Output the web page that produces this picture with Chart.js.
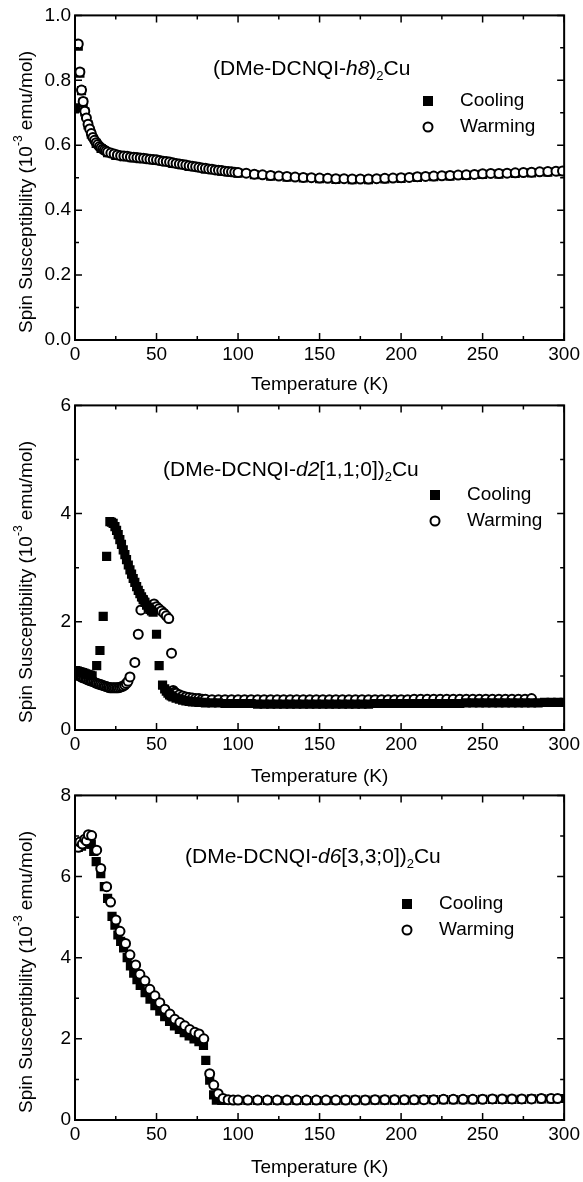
<!DOCTYPE html>
<html>
<head>
<meta charset="utf-8">
<script src="https://cdn.jsdelivr.net/npm/chart.js@4.4.0/dist/chart.umd.min.js"></script>
<style>
  body { margin: 0; background: #fff; }
  #wrap { position: relative; width: 583px; height: 1182px; }
  canvas { position: absolute; left: 0; }
</style>
</head>
<body>
<div id="wrap">
  <canvas id="c1" width="583" height="400" style="top:0px"></canvas>
  <canvas id="c2" width="583" height="400" style="top:390px"></canvas>
  <canvas id="c3" width="583" height="402" style="top:780px"></canvas>
</div>
<script>
// (DMe-DCNQI-h8)2Cu
var h8WarmT = [
  2, 3, 4, 5, 6, 7, 8, 9, 10, 11,
  12, 13, 14, 15, 16, 17, 18, 19, 20, 22,
  24, 26, 28, 30, 32, 34, 36, 38, 40, 42,
  44, 46, 48, 50, 52, 54, 56, 58, 60, 62,
  64, 66, 68, 70, 72, 74, 76, 78, 80, 82,
  84, 86, 88, 90, 92, 94, 96, 98, 100, 105,
  110, 115, 120, 125, 130, 135, 140, 145, 150, 155,
  160, 165, 170, 175, 180, 185, 190, 195, 200, 205,
  210, 215, 220, 225, 230, 235, 240, 245, 250, 255,
  260, 265, 270, 275, 280, 285, 290, 295, 299]
var h8WarmChi = [
  0.912, 0.826, 0.770, 0.735, 0.705, 0.684, 0.665, 0.650, 0.636, 0.624,
  0.615, 0.608, 0.602, 0.596, 0.592, 0.588, 0.585, 0.582, 0.579, 0.576,
  0.573, 0.570, 0.568, 0.567, 0.566, 0.564, 0.563, 0.562, 0.561, 0.560,
  0.558, 0.557, 0.556, 0.555, 0.553, 0.551, 0.550, 0.548, 0.546, 0.544,
  0.542, 0.541, 0.539, 0.537, 0.535, 0.534, 0.532, 0.530, 0.529, 0.527,
  0.526, 0.524, 0.523, 0.522, 0.520, 0.519, 0.518, 0.517, 0.516, 0.514,
  0.511, 0.509, 0.507, 0.505, 0.504, 0.502, 0.501, 0.500, 0.499, 0.498,
  0.497, 0.497, 0.496, 0.496, 0.496, 0.497, 0.498, 0.499, 0.500, 0.501,
  0.503, 0.504, 0.505, 0.506, 0.507, 0.508, 0.509, 0.510, 0.512, 0.513,
  0.513, 0.514, 0.515, 0.516, 0.517, 0.518, 0.519, 0.520, 0.521]
var h8CoolT = [
  0.5, 2, 3, 4, 5, 6, 8, 10, 13, 16,
  20, 25, 30, 35, 40, 50, 60, 70, 80, 90,
  100, 110, 120, 130, 140, 150, 160, 170, 180, 190,
  200, 210, 220, 230, 240, 250, 260, 270, 280, 290,
  298]
var h8CoolChi = [
  0.715, 0.905, 0.822, 0.768, 0.732, 0.703, 0.663, 0.634, 0.606, 0.590,
  0.577, 0.569, 0.565, 0.562, 0.559, 0.553, 0.544, 0.535, 0.527, 0.520,
  0.514, 0.509, 0.505, 0.502, 0.499, 0.497, 0.495, 0.494, 0.494, 0.496,
  0.498, 0.501, 0.503, 0.505, 0.507, 0.510, 0.511, 0.513, 0.515, 0.517,
  0.519]

// (DMe-DCNQI-d2[1,1;0])2Cu
var d2CoolT = [
  0.5, 1.5, 2.5, 3.5, 4.5, 5.5, 6.5, 7.5, 8.5, 9.5,
  10.5, 13.3, 15.3, 17.3, 19.4, 21.4, 22.4, 23.4, 24.5, 25.5,
  26.5, 27.5, 28.5, 29.6, 30.6, 31.6, 32.7, 33.7, 34.7, 35.7,
  36.7, 37.8, 38.8, 39.8, 40.8, 41.8, 42.9, 43.9, 44.9, 45.9,
  46.9, 47.9, 50, 51.6, 53.7, 55, 56, 57, 58, 59,
  60, 62, 64, 66, 68, 70, 72, 74, 76, 78,
  80, 84, 88, 92, 96, 100, 104, 108, 112, 116,
  120, 124, 128, 132, 136, 140, 144, 148, 152, 156,
  160, 164, 168, 172, 176, 180, 184, 188, 192, 196,
  200, 204, 208, 212, 216, 220, 224, 228, 232, 236,
  240, 244, 248, 252, 256, 260, 264, 268, 272, 276,
  280, 284, 288, 292, 296, 300]
var d2CoolChi = [
  1.10, 1.09, 1.08, 1.07, 1.06, 1.05, 1.04, 1.03, 1.02, 1.01,
  1.00, 1.19, 1.47, 2.10, 3.21, 3.85, 3.84, 3.82, 3.76, 3.69,
  3.61, 3.52, 3.43, 3.33, 3.24, 3.15, 3.05, 2.96, 2.88, 2.80,
  2.73, 2.65, 2.58, 2.52, 2.46, 2.41, 2.36, 2.31, 2.27, 2.23,
  2.20, 2.18, 1.77, 1.19, 0.83, 0.76, 0.72, 0.68, 0.65, 0.63,
  0.61, 0.59, 0.57, 0.55, 0.54, 0.53, 0.52, 0.52, 0.51, 0.51,
  0.50, 0.50, 0.50, 0.49, 0.49, 0.49, 0.49, 0.49, 0.48, 0.48,
  0.48, 0.48, 0.48, 0.48, 0.48, 0.48, 0.48, 0.48, 0.48, 0.48,
  0.48, 0.48, 0.48, 0.48, 0.48, 0.48, 0.49, 0.49, 0.49, 0.49,
  0.49, 0.49, 0.49, 0.49, 0.49, 0.49, 0.49, 0.49, 0.49, 0.49,
  0.50, 0.50, 0.50, 0.50, 0.50, 0.50, 0.50, 0.50, 0.50, 0.50,
  0.50, 0.50, 0.51, 0.51, 0.51, 0.51]
var d2WarmT = [
  0.5, 1.5, 2.5, 3.5, 4.5, 5.5, 6.5, 7.5, 8.5, 9.5,
  10.5, 11.5, 12.5, 13.5, 14.5, 15.5, 16.5, 17.5, 18.5, 19.5,
  20.5, 21.5, 22.5, 23.5, 24.5, 25.5, 26.5, 27.5, 28.5, 29.5,
  30.5, 31.5, 32.5, 33.7, 36.7, 38.8, 40.4, 41.8, 48.5, 50,
  51.5, 53, 54.5, 56, 57.5, 59.2, 60.2, 61, 62, 64,
  66, 68, 70, 72, 74, 76, 78, 80, 84, 88,
  92, 96, 100, 104, 108, 112, 116, 120, 124, 128,
  132, 136, 140, 144, 148, 152, 156, 160, 164, 168,
  172, 176, 180, 184, 188, 192, 196, 200, 204, 208,
  212, 216, 220, 224, 228, 232, 236, 240, 244, 248,
  252, 256, 260, 264, 268, 272, 276, 280]
var d2WarmChi = [
  1.04, 1.02, 1.00, 0.99, 0.97, 0.96, 0.95, 0.93, 0.92, 0.91,
  0.90, 0.89, 0.87, 0.86, 0.85, 0.84, 0.83, 0.82, 0.81, 0.80,
  0.79, 0.78, 0.78, 0.78, 0.78, 0.78, 0.78, 0.79, 0.80, 0.81,
  0.83, 0.86, 0.90, 0.98, 1.25, 1.77, 2.22, 2.42, 2.33, 2.28,
  2.24, 2.20, 2.16, 2.11, 2.06, 1.42, 0.73, 0.70, 0.68, 0.65,
  0.63, 0.61, 0.60, 0.59, 0.58, 0.58, 0.57, 0.57, 0.56, 0.56,
  0.56, 0.56, 0.56, 0.56, 0.56, 0.56, 0.56, 0.56, 0.56, 0.56,
  0.56, 0.56, 0.56, 0.56, 0.56, 0.56, 0.56, 0.56, 0.56, 0.56,
  0.56, 0.56, 0.56, 0.56, 0.56, 0.56, 0.56, 0.56, 0.56, 0.57,
  0.57, 0.57, 0.57, 0.57, 0.57, 0.57, 0.57, 0.57, 0.57, 0.57,
  0.57, 0.57, 0.57, 0.57, 0.57, 0.57, 0.57, 0.58]

// (DMe-DCNQI-d6[3,3;0])2Cu
var d6WarmT = [
  0.5, 2, 3, 4.5, 6, 7, 8.2, 10.2, 13.3, 15.8,
  19.4, 21.8, 25.1, 27.6, 31, 33.7, 37.2, 39.8, 42.9, 45.9,
  49, 52, 55.1, 58.2, 61.2, 64.3, 67.3, 70.4, 73.5, 76.1,
  79, 82.6, 85.1, 87.8, 90.8, 93.9, 97, 100, 106, 112,
  118, 124, 130, 136, 142, 148, 154, 160, 166, 172,
  178, 184, 190, 196, 202, 208, 214, 220, 226, 232,
  238, 244, 250, 256, 262, 268, 274, 280, 286, 292,
  296]
var d6WarmChi = [
  6.81, 6.72, 6.85, 6.80, 6.92, 6.88, 7.03, 7.01, 6.65, 6.20,
  5.75, 5.37, 4.93, 4.65, 4.35, 4.07, 3.82, 3.59, 3.43, 3.22,
  3.06, 2.89, 2.73, 2.61, 2.48, 2.40, 2.32, 2.23, 2.16, 2.12,
  2.00, 1.14, 0.86, 0.65, 0.53, 0.50, 0.49, 0.49, 0.49, 0.49,
  0.49, 0.49, 0.49, 0.49, 0.49, 0.49, 0.49, 0.49, 0.49, 0.49,
  0.49, 0.50, 0.50, 0.50, 0.50, 0.50, 0.50, 0.50, 0.51, 0.51,
  0.51, 0.51, 0.51, 0.52, 0.52, 0.52, 0.52, 0.52, 0.53, 0.53,
  0.53]
var d6CoolT = [
  0.5, 2, 4, 6, 8, 10, 11.5, 13, 15.8, 18,
  20, 22.7, 24.5, 26.3, 28, 29.8, 32, 34, 36, 38,
  40, 43, 46, 49, 52, 55, 58, 61, 64, 67,
  70, 73, 76, 78.8, 80.2, 82.6, 85, 86.7, 90, 94,
  100, 106, 112, 118, 124, 130, 136, 142, 148, 154,
  160, 166, 172, 178, 184, 190, 196, 202, 208, 214,
  220, 226, 232, 238, 244, 250, 256, 262, 268, 274,
  280, 286, 292, 300]
var d6CoolChi = [
  6.75, 6.72, 6.75, 6.80, 6.85, 6.80, 6.62, 6.37, 6.07, 5.75,
  5.46, 5.02, 4.80, 4.56, 4.40, 4.24, 4.00, 3.80, 3.62, 3.46,
  3.32, 3.14, 2.98, 2.82, 2.68, 2.55, 2.43, 2.32, 2.23, 2.15,
  2.07, 2.00, 1.93, 1.84, 1.47, 0.98, 0.62, 0.49, 0.48, 0.48,
  0.48, 0.48, 0.48, 0.48, 0.48, 0.48, 0.48, 0.48, 0.48, 0.48,
  0.48, 0.49, 0.49, 0.49, 0.49, 0.49, 0.49, 0.49, 0.49, 0.50,
  0.50, 0.50, 0.50, 0.50, 0.50, 0.51, 0.51, 0.51, 0.51, 0.51,
  0.52, 0.52, 0.52, 0.53]

var FONT = "'Liberation Sans', Arial, Helvetica, sans-serif"
var xTitle = 'Temperature (K)'
var legendNames = ['Cooling', 'Warming']

function pts(xs, ys) {
  return xs.map(function(x, i) { return {x: x, y: ys[i]} })
}

// box, inward ticks, y title with superscript, sample label, legend
function framePlugin(o) {
  return {
    id: 'frame',
    afterDatasetsDraw: function(chart) {
      var c = chart.ctx, a = chart.chartArea
      var xs = chart.scales.x, ys = chart.scales.y
      c.save()
      c.strokeStyle = '#000'
      c.fillStyle = '#000'
      c.lineWidth = 2
      c.strokeRect(a.left, a.top, a.right - a.left, a.bottom - a.top)

      c.beginPath()
      var xt = xs.ticks.map(function(t) { return t.value })
      xt.forEach(function(v, i) {
        var p = xs.getPixelForValue(v)
        c.moveTo(p, a.bottom); c.lineTo(p, a.bottom - 7)
        c.moveTo(p, a.top); c.lineTo(p, a.top + 7)
        if (i < xt.length - 1) {
          var m = xs.getPixelForValue((v + xt[i + 1]) / 2)
          c.moveTo(m, a.bottom); c.lineTo(m, a.bottom - 4)
          c.moveTo(m, a.top); c.lineTo(m, a.top + 4)
        }
      })
      var yt = ys.ticks.map(function(t) { return t.value })
      yt.forEach(function(v, i) {
        var p = ys.getPixelForValue(v)
        c.moveTo(a.left, p); c.lineTo(a.left + 7, p)
        c.moveTo(a.right, p); c.lineTo(a.right - 7, p)
        if (i < yt.length - 1) {
          var m = ys.getPixelForValue((v + yt[i + 1]) / 2)
          c.moveTo(a.left, m); c.lineTo(a.left + 4, m)
          c.moveTo(a.right, m); c.lineTo(a.right - 4, m)
        }
      })
      c.lineWidth = 1.5
      c.stroke()

      // y axis title, rotated
      c.save()
      c.translate(27, 192)
      c.rotate(-Math.PI / 2)
      c.textBaseline = 'middle'
      var big = '19px ' + FONT, small = '12px ' + FONT
      var p1 = 'Spin Susceptibility (10', p2 = '-3', p3 = ' emu/mol)'
      c.font = big
      var w1 = c.measureText(p1).width, w3 = c.measureText(p3).width
      c.font = small
      var w2 = c.measureText(p2).width
      var x0 = -(w1 + w2 + w3) / 2
      c.font = big
      c.fillText(p1, x0, 0)
      c.font = small
      c.fillText(p2, x0 + w1, -8)
      c.font = big
      c.fillText(p3, x0 + w1 + w2, 0)
      c.restore()

      // sample label
      var x = o.labelX
      c.textBaseline = 'alphabetic'
      o.label.forEach(function(part) {
        var f = part[1] === 'i' ? 'italic 21px ' + FONT : part[1] === 's' ? '13px ' + FONT : '21px ' + FONT
        c.font = f
        c.fillText(part[0], x, o.labelY + (part[1] === 's' ? 5 : 0))
        x += c.measureText(part[0]).width
      })

      // legend
      var lx = o.legend[0], ly = o.legend[1]
      c.fillRect(lx - 5, ly - 5, 10, 10)
      c.beginPath()
      c.arc(lx, ly + 26, 4.5, 0, Math.PI * 2)
      c.fillStyle = '#fff'
      c.fill()
      c.lineWidth = 2
      c.stroke()
      c.fillStyle = '#000'
      c.font = '19px ' + FONT
      c.textBaseline = 'middle'
      c.fillText(legendNames[0], lx + 32, ly)
      c.fillText(legendNames[1], lx + 32, ly + 26)
      c.restore()
    }
  }
}

function makePanel(id, o) {
  var ctx = document.getElementById(id).getContext('2d')
  return new Chart(ctx, {
    type: 'scatter',
    data: {
      datasets: [
        {
          label: legendNames[1],
          data: pts(o.warmT, o.warmChi),
          pointStyle: 'circle',
          pointRadius: 4.5,
          borderWidth: 2,
          borderColor: '#000',
          backgroundColor: '#fff',
          order: o.warmOnTop ? 1 : 2
        },
        {
          label: legendNames[0],
          data: pts(o.coolT, o.coolChi),
          pointStyle: 'rect',
          pointRadius: 6.5,
          borderWidth: 0,
          borderColor: '#000',
          backgroundColor: '#000',
          order: o.warmOnTop ? 2 : 1
        }
      ]
    },
    options: {
      responsive: false,
      animation: false,
      devicePixelRatio: 1,
      layout: { padding: { top: 13, right: 18, left: 0, bottom: 0 } },
      plugins: { legend: { display: false }, tooltip: { enabled: false } },
      scales: {
        x: {
          type: 'linear', min: 0, max: 300,
          grid: { display: false, drawTicks: false },
          border: { display: false },
          ticks: { stepSize: 50, padding: 3, color: '#000', maxRotation: 0, font: { size: 19, family: FONT } },
          title: { display: true, text: xTitle, color: '#000', font: { size: 19, family: FONT }, padding: { top: 0, bottom: o.titlePad } },
          afterFit: function(s) { s.height = o.xh }
        },
        y: {
          type: 'linear', min: 0, max: o.yMax,
          grid: { display: false, drawTicks: false },
          border: { display: false },
          ticks: {
            stepSize: o.yStep, padding: 4, color: '#000', font: { size: 19, family: FONT },
            callback: function(v) { return o.dec ? v.toFixed(1) : v }
          },
          afterFit: function(s) { s.width = 75 }
        }
      }
    },
    plugins: [framePlugin(o)]
  })
}

makePanel('c1', {
  warmT: h8WarmT, warmChi: h8WarmChi, coolT: h8CoolT, coolChi: h8CoolChi,
  warmOnTop: true, yMax: 1.0, yStep: 0.2, dec: true, xh: 60, titlePad: 4,
  label: [['(DMe-DCNQI-', 'n'], ['h8', 'i'], [')', 'n'], ['2', 's'], ['Cu', 'n']],
  labelX: 213, labelY: 75, legend: [428, 101]
})
makePanel('c2', {
  warmT: d2WarmT, warmChi: d2WarmChi, coolT: d2CoolT, coolChi: d2CoolChi,
  warmOnTop: false, yMax: 6, yStep: 2, dec: false, xh: 60, titlePad: 2,
  label: [['(DMe-DCNQI-', 'n'], ['d2', 'i'], ['[1,1;0])', 'n'], ['2', 's'], ['Cu', 'n']],
  labelX: 163, labelY: 86, legend: [435, 105]
})
makePanel('c3', {
  warmT: d6WarmT, warmChi: d6WarmChi, coolT: d6CoolT, coolChi: d6CoolChi,
  warmOnTop: true, yMax: 8, yStep: 2, dec: false, xh: 62, titlePad: 3,
  label: [['(DMe-DCNQI-', 'n'], ['d6', 'i'], ['[3,3;0])', 'n'], ['2', 's'], ['Cu', 'n']],
  labelX: 185, labelY: 83, legend: [407, 124]
})
</script>
</body>
</html>
